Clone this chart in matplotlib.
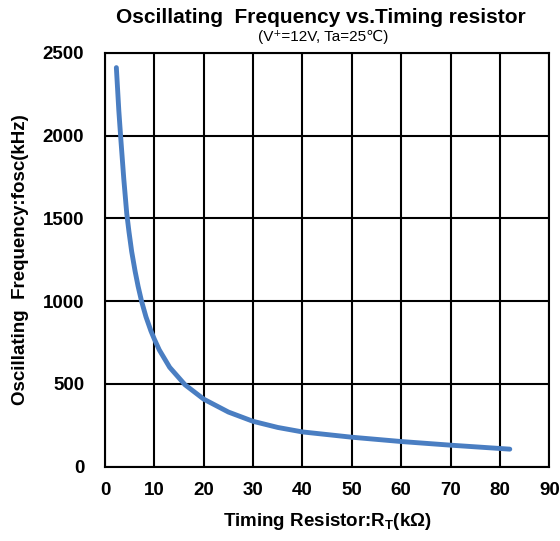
import matplotlib
matplotlib.use("Agg")
import matplotlib.pyplot as plt

plt.rcParams['font.family'] = ['Liberation Sans', 'DejaVu Sans']

# Data
rt_kohm = [2.3, 2.8, 3.2, 3.8, 4.4, 4.85, 5.4, 6.1, 6.7, 7.4, 8.3, 9.3, 10, 11, 13.1,
           16.2, 20, 25, 30, 35, 40, 50, 60, 70, 80, 82]
fosc_khz = [2410, 2150, 1980, 1740, 1530, 1420, 1300, 1180, 1090, 1000, 905, 820, 770, 705, 600,
            495, 408, 330, 274, 237, 210, 178, 152, 130, 110, 106]

x_ticks = [0, 10, 20, 30, 40, 50, 60, 70, 80, 90]
y_ticks = [0, 500, 1000, 1500, 2000, 2500]

fig = plt.figure(figsize=(5.6, 5.41), dpi=100)
ax = fig.add_axes([105/560, 1-466.7/541, (549.3-105)/560, (466.7-52.7)/541])

ax.plot(rt_kohm, fosc_khz, color='#4A7EC2', lw=3.5, solid_capstyle='round',
        solid_joinstyle='round', zorder=3)

ax.set_xlim(0, 90)
ax.set_ylim(0, 2500)
ax.set_xticks(x_ticks)
ax.set_yticks(y_ticks)
ax.grid(True, color='black', lw=1.5)
for s in ax.spines.values():
    s.set_linewidth(1.5)
    s.set_color('black')
ax.tick_params(axis='x', length=0, pad=11, labelsize=13.5)
ax.tick_params(axis='y', length=0, pad=15, labelsize=13.5)
for lab in ax.get_xticklabels() + ax.get_yticklabels():
    lab.set_fontweight('bold')

ax.set_xlabel('Timing Resistor:R$_\\mathregular{T}$(kΩ)', fontsize=13.5, fontweight='bold', labelpad=9)
ax.set_ylabel('Oscillating  Frequency:fosc(kHz)', fontsize=13.5, fontweight='bold', labelpad=10)

fig.text(0.573, 0.968, 'Oscillating  Frequency vs.Timing resistor', ha='center', va='center',
         fontsize=15, fontweight='bold')
fig.text(0.577, 0.931, '(V⁺=12V, Ta=25℃)', ha='center', va='center', fontsize=11)

fig.savefig('out.png', dpi=100)
